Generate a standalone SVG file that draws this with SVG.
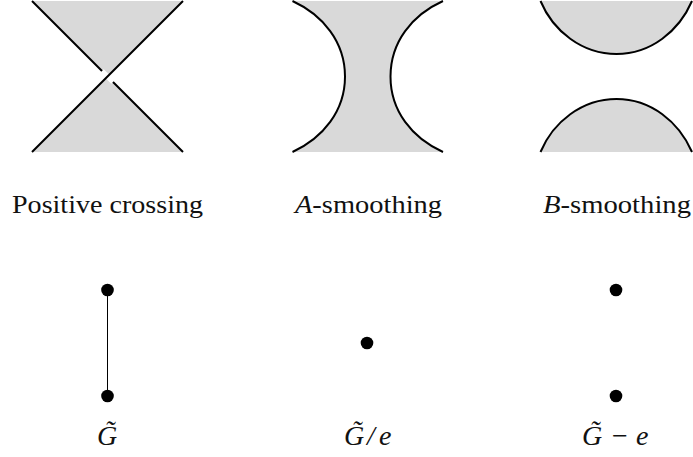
<svg xmlns="http://www.w3.org/2000/svg" width="693" height="457" viewBox="0 0 693 457">
<style>
.r{fill:#d9d9d9;stroke:none}
.s{fill:none;stroke:#000;stroke-width:2}
.e{fill:none;stroke:#000;stroke-width:1}
.d{fill:#000}
text{font-family:"Liberation Serif","Times New Roman",serif;font-size:26px;fill:#111}
.i{font-style:italic}
.m{font-size:28px}
.n{font-style:normal}
</style>
<rect width="693" height="457" fill="#fff"/>
<g id="positive-crossing">
<path class="r" d="M32 1H183L107.500 76.500ZM32 152H183L107.500 76.500Z"/>
<path d="M102 71L113 82" fill="none" stroke="#fff" stroke-width="5"/>
<path class="s" d="M32 1L102 71M113 82L183 152M32 152L183 1"/>
<text x="12" y="213" textLength="191" lengthAdjust="spacingAndGlyphs">Positive crossing</text>
</g>
<g id="a-smoothing">
<path class="r" d="M292.500 1H443C412 15 390.500 42 390.500 76.500C390.500 111 412 138 443 152H292.500C323 138 345 111 345 76.500C345 42 323 15 292.500 1Z"/>
<path class="s" d="M292.500 1C323 15 345 42 345 76.500C345 111 323 138 292.500 152M443 1C412 15 390.500 42 390.500 76.500C390.500 111 412 138 443 152"/>
<text x="295" y="213" textLength="147" lengthAdjust="spacingAndGlyphs"><tspan class="i">A</tspan>-smoothing</text>
</g>
<g id="b-smoothing">
<path class="r" d="M540.500 1H692C679 31 651 54 616.500 54C582 54 553 31 540.500 1ZM540.500 152H692C679 122 651 99 616.500 99C582 99 553 122 540.500 152Z"/>
<path class="s" d="M540.500 1C553 31 582 54 616.500 54C651 54 679 31 692 1M540.500 152C553 122 582 99 616.500 99C651 99 679 122 692 152"/>
<text x="543" y="213" textLength="148" lengthAdjust="spacingAndGlyphs"><tspan class="i">B</tspan>-smoothing</text>
</g>
<g id="connectors">
<line class="e" x1="107.500" y1="290" x2="107.500" y2="396"/>
</g>
<g id="g-tilde">
<circle class="d" cx="107.500" cy="290" r="6.300"/>
<circle class="d" cx="107.500" cy="396" r="6.300"/>
<text class="i m" x="97" y="445">G&#x303;</text>
</g>
<g id="g-tilde-contract">
<circle class="d" cx="367" cy="343" r="6.300"/>
<text class="i m" x="344" y="445">G&#x303;<tspan x="367">/</tspan><tspan x="379">e</tspan></text>
</g>
<g id="g-tilde-delete">
<circle class="d" cx="616" cy="290" r="6.300"/>
<circle class="d" cx="616" cy="396" r="6.300"/>
<text class="i m" x="582" y="445">G&#x303;<tspan class="n" x="612">−</tspan><tspan x="636">e</tspan></text>
</g>
</svg>
